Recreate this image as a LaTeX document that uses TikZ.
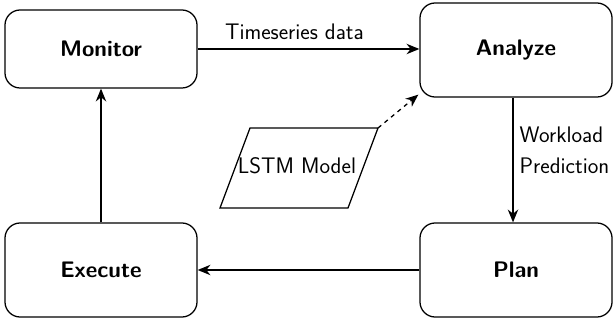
\documentclass[tikz,border=0pt]{standalone}
\usepackage{tikz}
\usetikzlibrary{arrows.meta,positioning,calc}
\newcommand{\picfont}{\fontsize{16}{19}\selectfont}
\tikzset{
  blk/.style   ={draw, rounded corners=0.38cm, line width=0.9pt,
                 minimum width=4.8cm, minimum height=2.35cm,
                 font=\sffamily\bfseries\picfont},
  arr/.style   ={-{Stealth[length=3.2mm,width=2.6mm]}, line width=0.9pt},
  dasharr/.style={arr, dashed},
  lbl/.style   ={font=\sffamily\picfont},
}
\begin{document}
\begin{tikzpicture}[x=0.025cm,y=-0.025cm]
  \useasboundingbox (0,0) rectangle (616,327);

  \node[blk,minimum height=1.95cm] (monitor) at (101,49) {Monitor};
  \node[blk] (analyze) at (516,50) {Analyze};
  \node[blk] (plan) at (516,270) {Plan};
  \node[blk] (execute) at (101,270) {Execute};

  % lstm model (parallelogram)
  \coordinate (lstm-tl) at (250,128);
  \coordinate (lstm-tr) at (378,128);
  \coordinate (lstm-br) at (348,208);
  \coordinate (lstm-bl) at (220,208);
  \draw[line width=0.9pt] (lstm-tl) -- (lstm-tr) -- (lstm-br) -- (lstm-bl) -- cycle;
  \node[lbl] (lstm) at (297,166) {LSTM Model};

  \draw[arr] (monitor.east) -- (monitor.east -| analyze.west)
    node[lbl,midway,above=3pt,xshift=-10pt] {Timeseries data};
  \draw[arr] (analyze.south -| 513,0) -- (plan.north -| 513,0)
    node[lbl,pos=0.42,right=1pt,align=left] {Workload\\[3pt]Prediction};
  \draw[arr] (plan) -- (execute);
  \draw[arr] (execute) -- (monitor);
  \draw[dasharr] (lstm-tr) -- ($(analyze.south west)+(-1,-3)$);
\end{tikzpicture}
\end{document}
